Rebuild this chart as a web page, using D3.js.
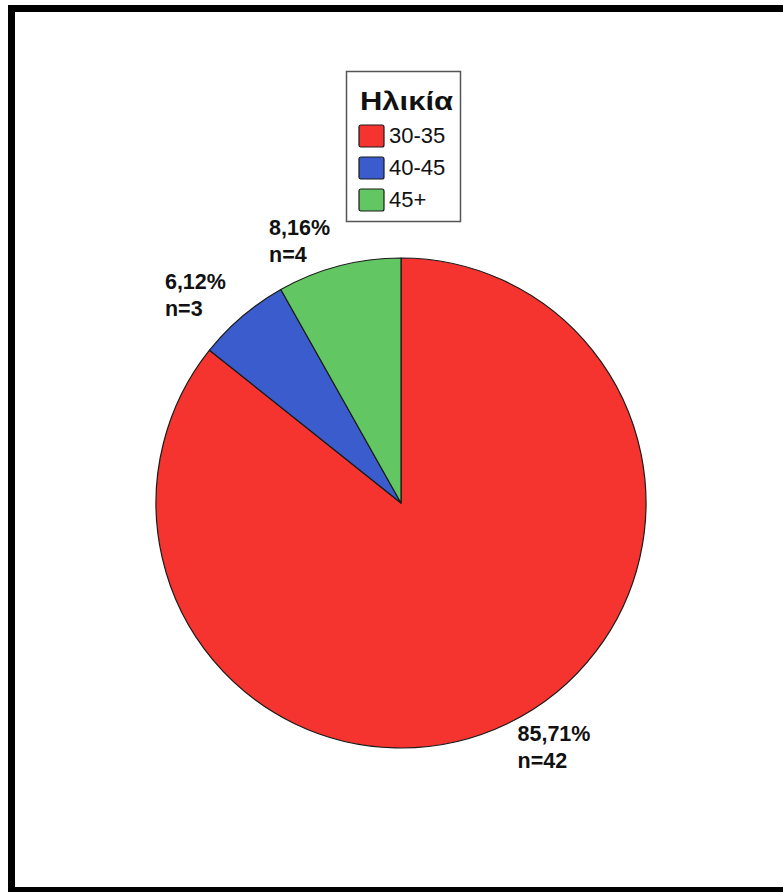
<!DOCTYPE html>
<html>
<head>
<meta charset="utf-8">
<script src="https://cdn.jsdelivr.net/npm/d3@7"></script>
<style>
  html, body { margin: 0; padding: 0; background: #ffffff; }
  svg { display: block; }
</style>
</head>
<body>
<svg id="chart" width="783" height="892"></svg>
<script>
// ---- data ----
const legendTitle = "Ηλικία";
const categories = ["30-35", "40-45", "45+"];
const percents = [85.71, 6.12, 8.16];
const counts = [42, 3, 4];
const colors = ["#f5332f", "#3a5ccc", "#62c662"];

const svg = d3.select("#chart");

// outer frame (only top, left, bottom visible in reference)
svg.append("rect")
  .attr("x", 11.5).attr("y", 8.5)
  .attr("width", 800).attr("height", 882)
  .attr("fill", "#fff")
  .attr("stroke", "#000")
  .attr("stroke-width", 7);

// ---- pie ----
const cx = 401, cy = 503, R = 245;
const data = categories.map((c, i) => ({ cat: c, pct: percents[i], n: counts[i], color: colors[i] }));

const pie = d3.pie().sort(null).value(d => d.pct);
const arc = d3.arc().innerRadius(0).outerRadius(R);
const arcs = pie(data);

const g = svg.append("g").attr("transform", `translate(${cx},${cy})`);
g.selectAll("path.slice")
  .data(arcs)
  .join("path")
  .attr("class", "slice")
  .attr("d", arc)
  .attr("fill", d => d.data.color)
  .attr("stroke", "#1a1a1a")
  .attr("stroke-width", 1.2)
  .attr("stroke-linejoin", "round");

// ---- labels ----
const labelR = 264;
const fmt = v => v.toFixed(2).replace(".", ",") + "%";
const lblG = svg.append("g")
  .attr("font-family", "Liberation Sans, Arial, sans-serif")
  .attr("font-weight", "bold")
  .attr("font-size", 21.5)
  .attr("fill", "#111");

arcs.forEach(a => {
  const mid = (a.startAngle + a.endAngle) / 2;
  const ax = cx + labelR * Math.sin(mid);
  const ay = cy - labelR * Math.cos(mid);
  const upper = Math.cos(mid) > 0;
  const left = Math.sin(mid) < 0;
  const y1 = upper ? ay - 13 : ay;
  const t1 = lblG.append("text").attr("y", y1).text(fmt(a.data.pct));
  const t2 = lblG.append("text").attr("y", y1 + 27).text("n=" + a.data.n);
  const w = t1.node().getComputedTextLength();
  const x = left ? ax - 4 - w : ax + 2;
  t1.attr("x", x);
  t2.attr("x", x);
});

// ---- legend ----
const leg = svg.append("g").attr("font-family", "Liberation Sans, Arial, sans-serif");
leg.append("rect")
  .attr("x", 346.5).attr("y", 71.5)
  .attr("width", 114).attr("height", 150)
  .attr("fill", "#fff")
  .attr("stroke", "#555")
  .attr("stroke-width", 1.5);
leg.append("text")
  .attr("x", 360).attr("y", 110)
  .attr("font-size", 25)
  .attr("font-weight", "bold")
  .attr("fill", "#111")
  .attr("textLength", 93)
  .attr("lengthAdjust", "spacingAndGlyphs")
  .text(legendTitle);

const rowY = d3.scalePoint().domain(categories).range([125, 189]);
const items = leg.selectAll("g.item")
  .data(data)
  .join("g")
  .attr("class", "item")
  .attr("transform", d => `translate(359,${rowY(d.cat)})`);
items.append("rect")
  .attr("width", 25).attr("height", 22)
  .attr("rx", 2)
  .attr("fill", d => d.color)
  .attr("stroke", "#1a1a1a")
  .attr("stroke-width", 1.2);
items.append("text")
  .attr("x", 30).attr("y", 18)
  .attr("font-size", 22)
  .attr("fill", "#111")
  .text(d => d.cat);
</script>
</body>
</html>
